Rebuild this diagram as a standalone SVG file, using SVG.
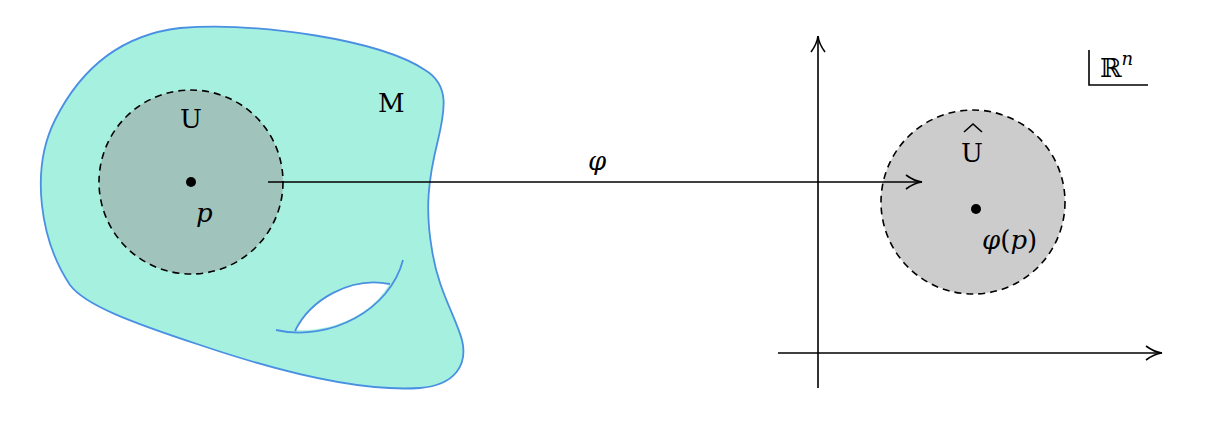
<svg xmlns="http://www.w3.org/2000/svg" width="1214" height="430" viewBox="0 0 1214 430">
<style>
.t{font-family:"DejaVu Serif","Liberation Serif",serif;font-size:26px;fill:#000}
.i{font-style:italic}
.ln{stroke:#000;stroke-width:1.6;fill:none}
.dash{stroke:#000;stroke-width:1.6;stroke-dasharray:7 5}
</style>
<defs>
<marker id="ar" markerWidth="20" markerHeight="20" refX="18" refY="10" orient="auto" markerUnits="userSpaceOnUse">
<path d="M2,3 Q10,9 18,10 Q10,11 2,17" fill="none" stroke="#000" stroke-width="1.6"/>
</marker>
</defs>
<g id="manifold">
<path d="M70,285 C40,240 30,170 55,120 C80,70 120,35 180,28 C260,22 380,40 425,70 C450,85 445,110 438,140 C428,180 425,210 432,250 C438,290 455,315 462,340 C468,365 455,385 420,388 C360,392 280,372 200,345 C130,322 85,305 70,285 Z" fill="#a6f0e0" stroke="#4a90e2" stroke-width="1.8"/>
<path d="M295,330 C310,300 350,278 390,283 C375,310 340,332 295,330 Z" fill="#fff"/>
<path d="M276,330 C330,342 390,310 403,260" fill="none" stroke="#4a90e2" stroke-width="1.8"/>
<path d="M295,331 C310,300 350,276 390,284" fill="none" stroke="#4a90e2" stroke-width="1.8"/>
<text class="t" x="378" y="112">M</text>
</g>
<g id="U">
<circle cx="191" cy="182" r="92" fill="#a0c4bc" class="dash"/>
<circle cx="191" cy="182" r="5" fill="#000"/>
<text class="t" x="180" y="128">U</text>
<text class="t i" x="196" y="222">p</text>
</g>
<g id="Uhat">
<circle cx="973" cy="202" r="92" fill="#cccccc" class="dash"/>
<circle cx="976" cy="209" r="5" fill="#000"/>
<text class="t" x="961" y="162">U</text>
<path d="M964,132 L973,124 L982,132" class="ln" stroke-width="1.3"/>
<text class="t" x="982" y="249"><tspan class="i">φ</tspan>(<tspan class="i">p</tspan>)</text>
</g>
<g id="axes">
<line x1="818" y1="388" x2="818" y2="36" class="ln" marker-end="url(#ar)"/>
<line x1="778" y1="353" x2="1162" y2="353" class="ln" marker-end="url(#ar)"/>
<path d="M1089,50 L1089,85 L1148,85" class="ln"/>
<text class="t" x="1100" y="77">ℝ<tspan class="i" font-size="18" dy="-12">n</tspan></text>
</g>
<g id="connectors">
<line x1="268" y1="182" x2="922" y2="182" class="ln" marker-end="url(#ar)"/>
<text class="t i" x="588" y="170">φ</text>
</g>
</svg>
